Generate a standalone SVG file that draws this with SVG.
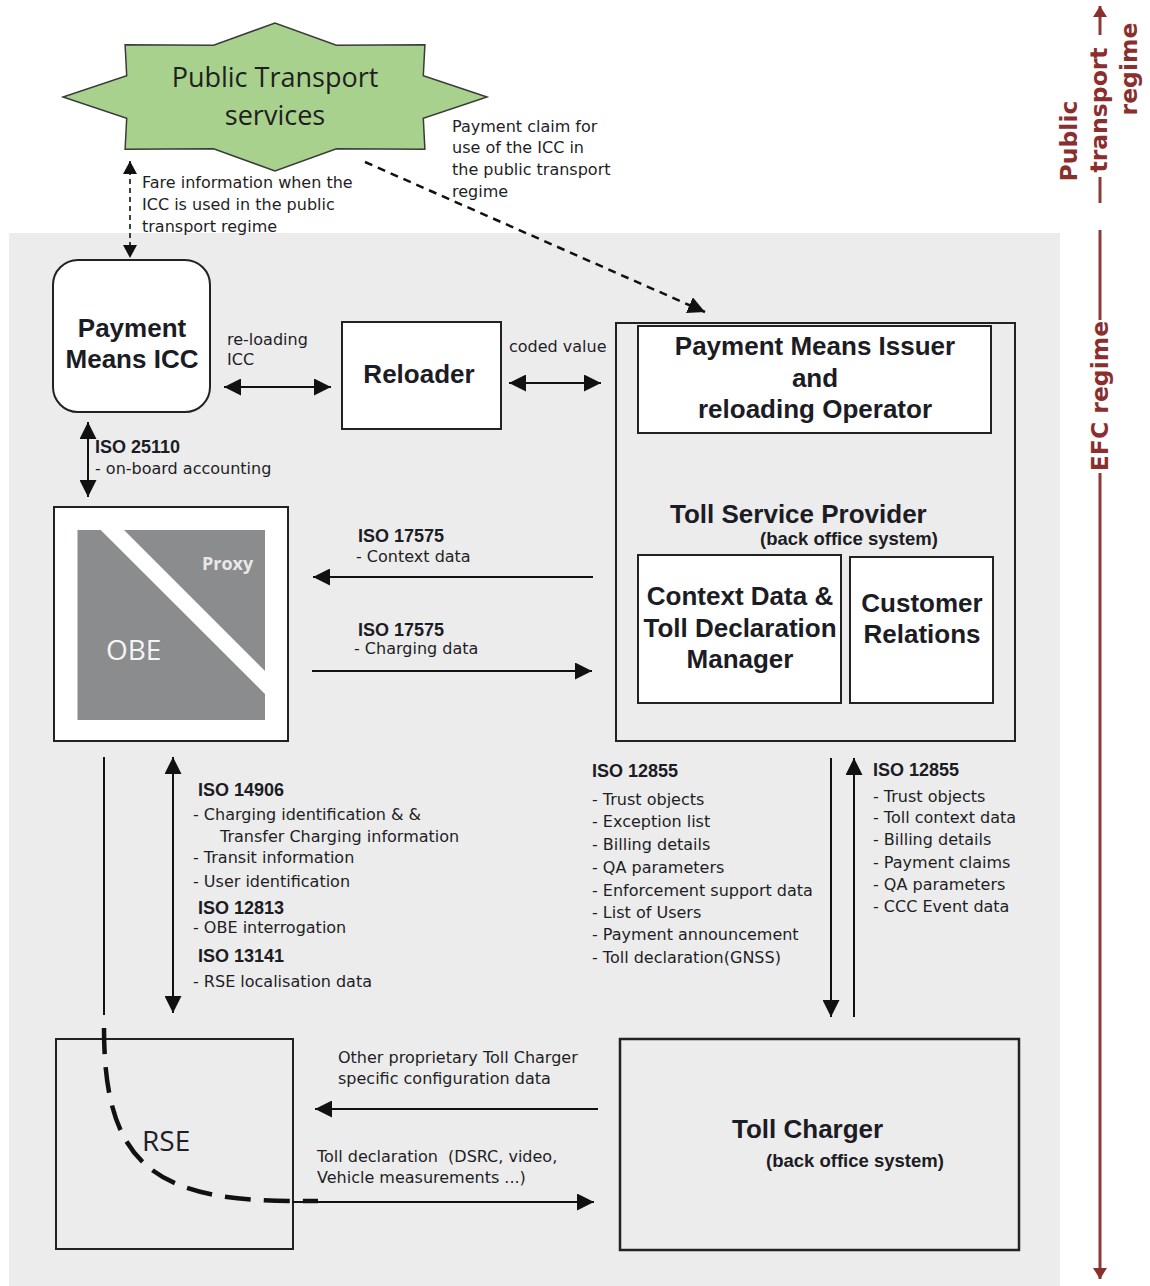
<svg xmlns="http://www.w3.org/2000/svg" width="1150" height="1286" viewBox="0 0 1150 1286">
  <style>
    .box { fill: #ffffff; stroke: #222222; stroke-width: 2; }
    .frame { fill: none; stroke: #222222; stroke-width: 2; }
    .title { font-family: "Liberation Sans", Arial, sans-serif; font-weight: bold; font-size: 26px; fill: #1c1c24; }
    .sub { font-family: "Liberation Sans", Arial, sans-serif; font-weight: bold; font-size: 18.5px; fill: #1c1c24; }
    .iso { font-family: "Liberation Sans", Arial, sans-serif; font-weight: bold; font-size: 18px; fill: #1c1c24; }
    .lbl { font-family: "DejaVu Sans", sans-serif; font-size: 16px; fill: #1e1e26; }
    .calibri { font-family: "Open Sans", sans-serif; }
    .regime { font-family: "DejaVu Sans", sans-serif; font-weight: bold; font-size: 23.5px; fill: #8b2e2e; }
    .link { fill: none; stroke: #111111; stroke-width: 2; }
    .dash-fine { stroke-width: 1.6; stroke-dasharray: 5 4; }
    .dash-claim { stroke-width: 2.5; stroke-dasharray: 8 6; }
    .dash-curve { stroke-width: 4.5; stroke-dasharray: 26 13; }
    .axis { fill: none; stroke: #8b3a3a; stroke-width: 3; }
  </style>
  <defs>
    <marker id="head" markerUnits="userSpaceOnUse" markerWidth="17" markerHeight="17" refX="17" refY="8.5" orient="auto-start-reverse">
      <path d="M0,0 L17,8.5 L0,17 Z" fill="#111111"/>
    </marker>
    <marker id="headSmall" markerUnits="userSpaceOnUse" markerWidth="14" markerHeight="14" refX="13" refY="7" orient="auto-start-reverse">
      <path d="M0,0 L13,7 L0,14 Z" fill="#111111"/>
    </marker>
    <marker id="headRed" markerUnits="userSpaceOnUse" markerWidth="12" markerHeight="14" refX="11" refY="7" orient="auto-start-reverse">
      <path d="M0,0 L11,7 L0,14 Z" fill="#8b2e2e"/>
    </marker>
  </defs>

  <!-- page background and EFC regime area -->
  <rect x="0" y="0" width="1150" height="1286" fill="#ffffff"/>
  <rect x="9" y="233" width="1051" height="1053" fill="#ececec"/>

  <!-- Public transport services star -->
  <g id="public-transport">
    <polygon points="487,97 423.3,75.6 424.9,44.7 336.4,45.3 275,23 213.6,45.3 125.1,44.7 126.7,75.6 63,97 126.7,118.4 125.1,149.3 213.6,148.7 275,171 336.4,148.7 424.9,149.3 423.3,118.4" fill="#a9d18e" stroke="#3a3a3a" stroke-width="1.5"/>
    <text class="calibri" x="275" y="87" font-size="27" fill="#1f1f1f" text-anchor="middle">Public Transport</text>
    <text class="calibri" x="275" y="125" font-size="27" fill="#1f1f1f" text-anchor="middle">services</text>
  </g>

  <!-- Payment means ICC -->
  <g id="icc">
    <rect class="box" x="53" y="260" width="157" height="152" rx="25" ry="25"/>
    <text class="title" x="132" y="337" text-anchor="middle">Payment</text>
    <text class="title" x="132" y="368" text-anchor="middle">Means ICC</text>
  </g>

  <!-- Reloader -->
  <g id="reloader">
    <rect class="box" x="342" y="322" width="159" height="107"/>
    <text class="title" x="419" y="383" text-anchor="middle">Reloader</text>
  </g>

  <!-- Toll Service Provider with its sub-units -->
  <g id="toll-service-provider">
    <rect class="frame" x="616" y="323" width="399" height="418"/>
    <text class="title" x="670" y="523">Toll Service Provider</text>
    <text class="sub" x="760" y="545">(back office system)</text>
  </g>
  <g id="payment-means-issuer">
    <rect class="box" x="638" y="326" width="353" height="107"/>
    <text class="title" x="815" y="355" text-anchor="middle">Payment Means Issuer</text>
    <text class="title" x="815" y="387" text-anchor="middle">and</text>
    <text class="title" x="815" y="418" text-anchor="middle">reloading Operator</text>
  </g>
  <g id="context-data-manager">
    <rect class="box" x="638" y="555" width="203" height="148"/>
    <text class="title" x="740" y="605" text-anchor="middle">Context Data &amp;</text>
    <text class="title" x="740" y="637" text-anchor="middle">Toll Declaration</text>
    <text class="title" x="740" y="668" text-anchor="middle">Manager</text>
  </g>
  <g id="customer-relations">
    <rect class="box" x="850" y="557" width="143" height="146"/>
    <text class="title" x="922" y="612" text-anchor="middle">Customer</text>
    <text class="title" x="922" y="643" text-anchor="middle">Relations</text>
  </g>

  <!-- On-board equipment -->
  <g id="obe">
    <rect class="box" x="54" y="507" width="234" height="234"/>
    <rect x="77.5" y="530" width="187.5" height="190" fill="#8a8c8e"/>
    <polygon points="100.7,530 124,530 265,671 265,694" fill="#ffffff"/>
    <text class="calibri" x="202" y="570" font-size="18" font-weight="bold" fill="#e8e8e8">Proxy</text>
    <text class="calibri" x="106" y="660" font-size="28" fill="#f4f4f4">OBE</text>
  </g>

  <!-- Road-side equipment -->
  <g id="rse">
    <rect class="frame" x="56" y="1039" width="237" height="210"/>
    <text class="calibri" x="142" y="1151" font-size="28" fill="#1f1f28">RSE</text>
  </g>

  <!-- Toll Charger -->
  <g id="toll-charger">
    <rect class="frame" x="620" y="1039" width="399" height="211" style="stroke-width:2.5"/>
    <text class="title" x="732" y="1138">Toll Charger</text>
    <text class="sub" x="766" y="1167">(back office system)</text>
  </g>

  <!-- connectors -->
  <g id="connectors">
    <path class="link dash-fine" d="M130,161 V258" marker-start="url(#headSmall)" marker-end="url(#headSmall)"/>
    <path class="link dash-claim" d="M365,162 L705,312" marker-end="url(#head)"/>
    <path class="link" d="M224,387 H331" marker-start="url(#head)" marker-end="url(#head)"/>
    <path class="link" d="M509,383 H601" marker-start="url(#head)" marker-end="url(#head)"/>
    <path class="link" d="M88,422 V497" marker-start="url(#head)" marker-end="url(#head)"/>
    <path class="link" d="M593,577 H313" marker-end="url(#head)"/>
    <path class="link" d="M312,671 H592" marker-end="url(#head)"/>
    <path class="link" d="M104,757 V1015"/>
    <path class="link dash-curve" d="M104,1028 C104,1160 150,1201 293,1201 L318,1201"/>
    <path class="link" d="M173,757 V1013" marker-start="url(#head)" marker-end="url(#head)"/>
    <path class="link" d="M831,758 V1017" marker-end="url(#head)"/>
    <path class="link" d="M854,1017 V758" marker-end="url(#head)"/>
    <path class="link" d="M598,1109 H315" marker-end="url(#head)"/>
    <path class="link" d="M292,1202 H594" marker-end="url(#head)"/>
  </g>

  <!-- connector labels -->
  <g id="labels">
    <text class="lbl" x="142" y="188">Fare information when the</text>
    <text class="lbl" x="142" y="210">ICC is used in the public</text>
    <text class="lbl" x="142" y="232">transport regime</text>

    <text class="lbl" x="452" y="132">Payment claim for</text>
    <text class="lbl" x="452" y="153">use of the ICC in</text>
    <text class="lbl" x="452" y="175">the public transport</text>
    <text class="lbl" x="452" y="197">regime</text>

    <text class="lbl" x="227" y="345">re-loading</text>
    <text class="lbl" x="227" y="365">ICC</text>
    <text class="lbl" x="509" y="352">coded value</text>

    <text class="iso" x="95" y="453">ISO 25110</text>
    <text class="lbl" x="95" y="474">- on-board accounting</text>

    <text class="iso" x="358" y="542">ISO 17575</text>
    <text class="lbl" x="356" y="562">- Context data</text>
    <text class="iso" x="358" y="636">ISO 17575</text>
    <text class="lbl" x="354" y="654">- Charging data</text>

    <text class="iso" x="198" y="796">ISO 14906</text>
    <text class="lbl" x="193" y="820">- Charging identification &amp; &amp;</text>
    <text class="lbl" x="220" y="842">Transfer Charging information</text>
    <text class="lbl" x="193" y="863">- Transit information</text>
    <text class="lbl" x="193" y="887">- User identification</text>
    <text class="iso" x="198" y="914">ISO 12813</text>
    <text class="lbl" x="193" y="933">- OBE interrogation</text>
    <text class="iso" x="198" y="962">ISO 13141</text>
    <text class="lbl" x="193" y="987">- RSE localisation data</text>

    <text class="iso" x="592" y="777">ISO 12855</text>
    <text class="lbl" x="592" y="805">- Trust objects</text>
    <text class="lbl" x="592" y="827">- Exception list</text>
    <text class="lbl" x="592" y="850">- Billing details</text>
    <text class="lbl" x="592" y="873">- QA parameters</text>
    <text class="lbl" x="592" y="896">- Enforcement support data</text>
    <text class="lbl" x="592" y="918">- List of Users</text>
    <text class="lbl" x="592" y="940">- Payment announcement</text>
    <text class="lbl" x="592" y="963">- Toll declaration(GNSS)</text>

    <text class="iso" x="873" y="776">ISO 12855</text>
    <text class="lbl" x="873" y="802">- Trust objects</text>
    <text class="lbl" x="873" y="823">- Toll context data</text>
    <text class="lbl" x="873" y="845">- Billing details</text>
    <text class="lbl" x="873" y="868">- Payment claims</text>
    <text class="lbl" x="873" y="890">- QA parameters</text>
    <text class="lbl" x="873" y="912">- CCC Event data</text>

    <text class="lbl" x="338" y="1063">Other proprietary Toll Charger</text>
    <text class="lbl" x="338" y="1084">specific configuration data</text>
    <text class="lbl" x="317" y="1162" xml:space="preserve">Toll declaration  (DSRC, video,</text>
    <text class="lbl" x="317" y="1183">Vehicle measurements ...)</text>
  </g>

  <!-- regime axis on the right -->
  <g id="regime-axis">
    <path class="axis" d="M1100,35 V6" marker-end="url(#headRed)"/>
    <path class="axis" d="M1100,177 V203"/>
    <path class="axis" d="M1100,230 V320"/>
    <path class="axis" d="M1100,473 V1279" marker-end="url(#headRed)"/>
    <text class="regime" transform="translate(1077,141) rotate(-90)" text-anchor="middle">Public</text>
    <text class="regime" transform="translate(1107,110) rotate(-90)" text-anchor="middle">transport</text>
    <text class="regime" transform="translate(1137,69) rotate(-90)" text-anchor="middle">regime</text>
    <text class="regime" transform="translate(1108,396) rotate(-90)" text-anchor="middle">EFC regime</text>
  </g>
</svg>
